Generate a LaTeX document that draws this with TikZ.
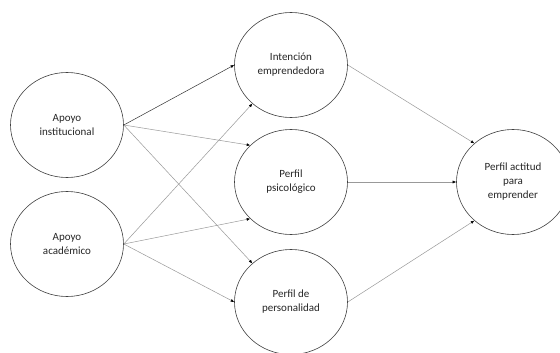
\documentclass[tikz,border=0pt]{standalone}
\usepackage{fontspec}
\setmainfont{Carlito}
\usetikzlibrary{shapes.geometric,arrows.meta}
\begin{document}
\begin{tikzpicture}[x=1pt,y=-1pt,
  blob/.style={ellipse,draw=black!75,line width=0.6pt,minimum width=113pt,minimum height=105pt,inner sep=0pt,align=center,font=\fontsize{11}{14}\selectfont,text=black!85},
  link/.style={draw=black!40,line width=0.5pt,-{Latex[length=3.5pt,width=3pt,black]}},
  darklink/.style={link,draw=black!80}]
\useasboundingbox (0,0) rectangle (560,353);
\clip (0,0) rectangle (560,353);
\fill[white] (0,0) rectangle (560,353);
\node[blob] (inst) at (67,125) {Apoyo\\institucional};
\node[blob] (acad) at (67,244) {Apoyo\\académico};
\node[blob] (inte) at (291,65) {Intención\\emprendedora};
\node[blob] (psic) at (291,182) {Perfil\\psicológico};
\node[blob] (pers) at (291,302) {Perfil de\\personalidad};
\node[blob] (acti) at (513,182) {Perfil actitud\\para\\emprender};
\draw[darklink] (inst.east) -- (inte.west);
\draw[link] (inst.east) -- (psic.138);
\draw[link] (inst.east) -- (pers.135);
\draw[link] (acad.east) -- (inte.225);
\draw[link] (acad.east) -- (psic.222);
\draw[link] (acad.east) -- (pers.west);
\draw[link] (inte.east) -- (acti.135);
\draw[link] (psic.east) -- (acti.west);
\draw[link] (pers.east) -- (acti.225);
\end{tikzpicture}
\end{document}
